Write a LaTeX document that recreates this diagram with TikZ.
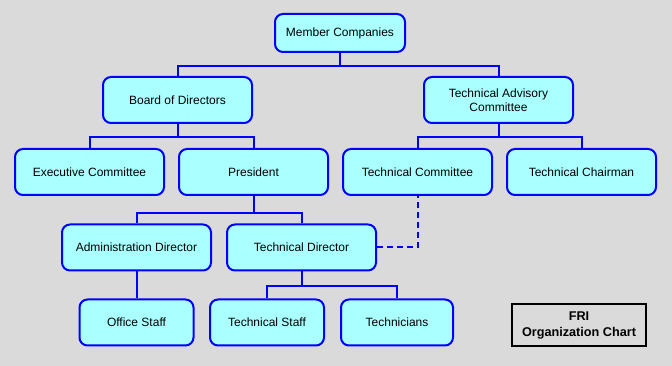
\documentclass[tikz,border=0pt]{standalone}
\usepackage{fontspec}
\setmainfont{Liberation Sans}
\usetikzlibrary{positioning,calc}
\definecolor{chartbg}{RGB}{218,218,218}
\definecolor{orgline}{RGB}{0,0,255}
\definecolor{orgfill}{RGB}{170,255,255}
\tikzset{unit/.style={draw=orgline,fill=orgfill,line width=1.5pt,rounded corners=6pt,
    minimum width=111.75pt,minimum height=34.5pt,align=center,inner sep=2pt,
    font=\fontsize{9}{10.5}\selectfont},
  staff/.style={unit,minimum width=85.5pt},
  link/.style={draw=orgline,line width=1.5pt},
  dotlink/.style={link,dash pattern=on 4.5pt off 3pt},
  titlebox/.style={draw=black,line width=1.5pt,minimum width=100.5pt,minimum height=31.5pt,
    align=center,inner sep=2pt,font=\fontsize{9.5}{12}\selectfont\bfseries}}

\begin{document}
\begin{tikzpicture}[x=0.75pt, y=-0.75pt]
\fill[chartbg] (0,0) rectangle (672,366);
\useasboundingbox (0,0) rectangle (672,366);
\node[unit, minimum width=97.5pt, minimum height=28.5pt] (mc) at (340,33) {Member Companies};
\node[unit] (bod) at (177.5,100) {Board of Directors};
\node[unit] (tac) at (498.5,100) {Technical Advisory\\Committee};
\node[unit] (exc) at (89.5,172) {Executive Committee};
\node[unit] (pres) at (253.5,172) {President};
\node[unit] (tc) at (417.5,172) {Technical Committee};
\node[unit] (tch) at (581.5,172) {Technical Chairman};
\node[unit] (adm) at (136.5,247.5) {Administration Director};
\node[unit] (td) at (301.5,247.5) {Technical Director};
\node[staff] (off) at (136.5,322.5) {Office Staff};
\node[staff] (ts) at (267,322.5) {Technical Staff};
\node[staff, minimum width=84pt] (tn) at (397,322.5) {Technicians};
\node[titlebox] (fri) at (579,325) {FRI\\Organization Chart};
\draw[link] (mc.south) -- ++(0,13) -| (bod.north);
\draw[link] (mc.south) -- ++(0,13) -| (tac.north);
\draw[link] (bod.south) -- ++(0,13) -| (exc.north);
\draw[link] (bod.south) -- ++(0,13) -| (pres.north);
\draw[link] (tac.south) -- ++(0,13) -| (tc.north);
\draw[link] (tac.south) -- ++(0,13) -| (tch.north);
\draw[link] (pres.south) -- ++(0,17) -| (adm.north);
\draw[link] (pres.south) -- ++(0,17) -| (td.north);
\draw[link] (adm.south) -- (off.north);
\draw[link] (td.south) -- ++(0,15) -| (ts.north);
\draw[link] (td.south) -- ++(0,15) -| (tn.north);
\draw[dotlink] (td.east) -| (tc.south);
\end{tikzpicture}
\end{document}
